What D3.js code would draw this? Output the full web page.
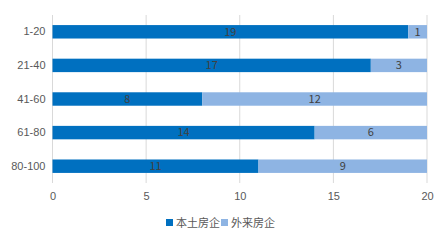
<!DOCTYPE html>
<html>
<head>
<meta charset="utf-8">
<script src="https://cdn.jsdelivr.net/npm/d3@7"></script>
<style>
  body { margin: 0; background: #fff; }
  svg { display: block; font-family: "Microsoft YaHei", "Noto Sans CJK SC", sans-serif; }
</style>
</head>
<body>
<svg width="443" height="243"></svg>
<script>
(function(){
    // Chart data
    const categories = ["1-20", "21-40", "41-60", "61-80", "80-100"];
    const seriesNames = ["本土房企", "外来房企"];
    const local = [19, 17, 8, 14, 11];
    const foreign = [1, 3, 12, 6, 9];
    const xTicks = [0, 5, 10, 15, 20];
    const colors = ["#0070C0", "#8EB4E3"];

    const margin = { top: 15, right: 16, bottom: 60, left: 52.5 },
        width = 443 - margin.left - margin.right,
        height = 243 - margin.top - margin.bottom;

    const svg = d3.select("svg")
        .append("g")
        .attr("transform", `translate(${margin.left},${margin.top})`);

    const x = d3.scaleLinear().domain([0, 20]).range([0, width]);
    const y = d3.scaleBand()
        .domain(categories)
        .range([0, height])
        .paddingInner(0.6)
        .paddingOuter(0.3);

    // Gridlines
    svg.selectAll(".grid")
        .data(xTicks)
        .enter().append("line")
        .attr("x1", d => x(d)).attr("x2", d => x(d))
        .attr("y1", 0).attr("y2", height)
        .attr("stroke", "#d9d9d9")
        .attr("stroke-width", 1);

    // X axis labels
    const xAxis = svg.append("g")
        .attr("transform", `translate(0,${height})`)
        .call(d3.axisBottom(x).tickValues(xTicks).tickSize(0).tickPadding(9));
    xAxis.select(".domain").remove();
    xAxis.selectAll("text").attr("fill", "#595959").style("font-size", "11px");

    // Y axis labels
    const yAxis = svg.append("g")
        .call(d3.axisLeft(y).tickSize(0).tickPadding(7));
    yAxis.select(".domain").remove();
    yAxis.selectAll("text").attr("fill", "#595959").style("font-size", "11px");

    // Stack data
    const rows = categories.map((c, i) => ({ cat: c, local: local[i], foreign: foreign[i] }));
    const stack = d3.stack().keys(["local", "foreign"])(rows);

    const layers = svg.selectAll(".layer")
        .data(stack)
        .enter().append("g")
        .attr("fill", (d, i) => colors[i]);

    layers.selectAll("rect")
        .data(d => d)
        .enter().append("rect")
        .attr("x", d => x(d[0]))
        .attr("y", d => y(d.data.cat))
        .attr("width", d => x(d[1]) - x(d[0]))
        .attr("height", y.bandwidth());

    layers.selectAll("text")
        .data(d => d)
        .enter().append("text")
        .attr("x", d => (x(d[0]) + x(d[1])) / 2)
        .attr("y", d => y(d.data.cat) + y.bandwidth() / 2)
        .attr("dy", "0.35em")
        .attr("text-anchor", "middle")
        .attr("fill", "#404040")
        .style("font-size", "11px")
        .text(d => d[1] - d[0]);

    // Legend
    const legend = d3.select("svg").append("g")
        .attr("transform", "translate(166,223)");
    const items = legend.selectAll("g")
        .data(seriesNames)
        .enter().append("g")
        .attr("transform", (d, i) => `translate(${i * 55},0)`);
    items.append("rect")
        .attr("x", 0).attr("y", -4)
        .attr("width", 7).attr("height", 7)
        .attr("fill", (d, i) => colors[i]);
    items.append("text")
        .attr("x", 10).attr("y", 0)
        .attr("dy", "0.35em")
        .attr("fill", "#595959")
        .style("font-size", "11px")
        .text(d => d);
})();
</script>
</body>
</html>
